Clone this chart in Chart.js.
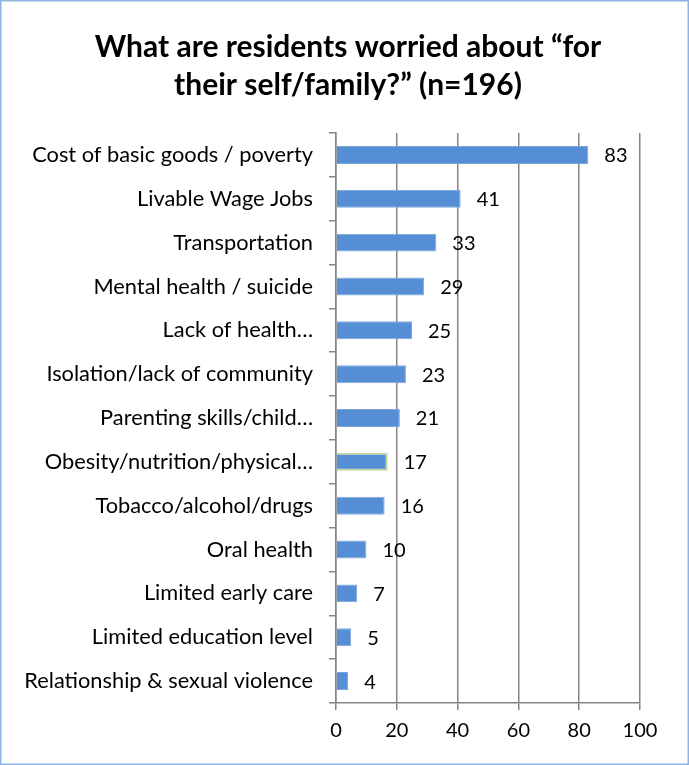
<!DOCTYPE html>
<html>
<head>
<meta charset="utf-8">
<script src="https://cdn.jsdelivr.net/npm/chart.js@4/dist/chart.umd.min.js"></script>
<style>
  html, body { margin: 0; padding: 0; background: #fff; }
  #wrap { width: 689px; height: 765px; }
</style>
</head>
<body>
<div id="wrap"><canvas id="myChart" width="689" height="765"></canvas></div>
<script>
// data
var categories = [
  "Cost of basic goods / poverty",
  "Livable Wage Jobs",
  "Transportation",
  "Mental health / suicide",
  "Lack of health\u2026",
  "Isolation/lack of community",
  "Parenting skills/child\u2026",
  "Obesity/nutrition/physical\u2026",
  "Tobacco/alcohol/drugs",
  "Oral health",
  "Limited early care",
  "Limited education level",
  "Relationship & sexual violence"
];
var counts = [83, 41, 33, 29, 25, 23, 21, 17, 16, 10, 7, 5, 4];
var xTicks = [0, 20, 40, 60, 80, 100];
var titleLines = ["What are residents worried about \u201cfor", "their self/family?\u201d (n=196)"];

var FONT = "Lato, 'Liberation Sans', sans-serif";
var GRID = "#868686";

// bar borders: one bar has the greenish outline in the original
var borders = counts.map(function(v, i){
  return i == 7 ? "#C3D69B" : "#7EA6DC";
});
var borderWidths = counts.map(function(v, i){
  return i == 7 ? 2 : 1;
});

var valueLabels = {
  id: "valueLabels",
  afterDatasetsDraw: function(chart){
    var ctx = chart.ctx;
    var meta = chart.getDatasetMeta(0);
    ctx.save();
    ctx.font = "20px " + FONT;
    ctx.fillStyle = "#000";
    ctx.textAlign = "left";
    ctx.textBaseline = "middle";
    meta.data.forEach(function(bar, i){
      ctx.fillText(String(counts[i]), bar.x + 16, bar.y + 1);
    });
    ctx.restore();
  }
};

// title is centred on the whole picture, not on the plot, so draw it here
var frame = {
  id: "frame",
  beforeDraw: function(chart){
    var ctx = chart.ctx;
    ctx.save();
    ctx.fillStyle = "#fff";
    ctx.fillRect(0, 0, chart.width, chart.height);
    ctx.restore();
  },
  afterDraw: function(chart){
    var ctx = chart.ctx;
    ctx.save();
    ctx.fillStyle = "#000";
    ctx.font = "bold 30px " + FONT;
    ctx.textAlign = "center";
    ctx.textBaseline = "middle";
    ctx.fillText(titleLines[0], 348, 47);
    ctx.fillText(titleLines[1], 348, 85);
    ctx.strokeStyle = "#8EB4E3";
    ctx.lineWidth = 1.5;
    ctx.strokeRect(0.75, 0.75, chart.width - 1.5, chart.height - 1.5);
    ctx.restore();
  }
};

var ctx = document.getElementById("myChart").getContext("2d");
var myChart = new Chart(ctx, {
  type: "bar",
  data: {
    labels: categories,
    datasets: [{
      data: counts,
      backgroundColor: "#558ED5",
      borderColor: borders,
      borderWidth: borderWidths,
      categoryPercentage: 1,
      barPercentage: 0.41
    }]
  },
  options: {
    indexAxis: "y",
    responsive: false,
    animation: false,
    layout: { padding: { left: 0, right: 49, top: 133, bottom: 12 } },
    plugins: {
      legend: { display: false },
      tooltip: { enabled: false },
      title: { display: false }
    },
    scales: {
      x: {
        min: 0,
        max: 100,
        afterBuildTicks: function(scale){
          scale.ticks = xTicks.map(function(v){ return { value: v }; });
        },
        afterFit: function(scale){ scale.height = 50; },
        grid: { color: GRID, lineWidth: 1.5, tickLength: 7, tickColor: GRID },
        border: { color: GRID, width: 1.5 },
        ticks: { color: "#000", font: { family: FONT, size: 20 }, padding: 9 }
      },
      y: {
        afterFit: function(scale){ scale.width = 336; },
        grid: { offset: true, drawOnChartArea: false, color: GRID, lineWidth: 1.5, tickLength: 7 },
        border: { color: GRID, width: 1.5 },
        ticks: { color: "#000", font: { family: FONT, size: 21.8 }, padding: 16, autoSkip: false }
      }
    }
  },
  plugins: [frame, valueLabels]
});
</script>
</body>
</html>
